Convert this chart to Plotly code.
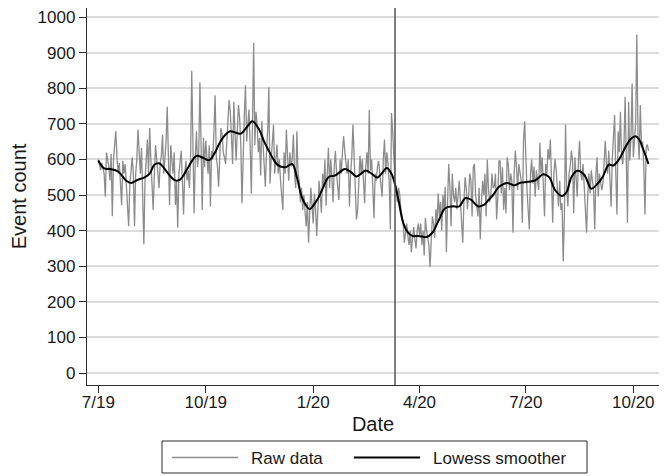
import pandas as pd
import plotly.graph_objects as go

# daily event counts, one list per month
raw_2019_07 = [600, 585, 570, 590, 578, 560, 495, 619, 601, 580, 541, 615, 440, 600, 640, 679, 606, 560, 590, 540,
               472, 596, 560, 587, 520, 470, 412, 530, 580, 606, 560]
raw_2019_08 = [412, 560, 600, 684, 610, 560, 633, 470, 362, 540, 600, 656, 560, 688, 600, 520, 458, 560, 640, 600,
               545, 520, 590, 610, 670, 560, 600, 650, 748, 560, 472]
raw_2019_09 = [640, 600, 560, 620, 472, 540, 408, 560, 587, 624, 540, 445, 560, 596, 541, 569, 520, 600, 849, 560,
               449, 600, 679, 578, 620, 817, 560, 458, 661, 578]
raw_2019_10 = [652, 606, 560, 640, 468, 624, 600, 680, 780, 606, 580, 523, 640, 688, 670, 620, 606, 587, 650, 700,
               767, 734, 640, 587, 762, 698, 596, 680, 753, 716, 640]
raw_2019_11 = [477, 640, 720, 808, 650, 700, 740, 640, 504, 700, 928, 640, 734, 698, 620, 660, 555, 707, 640, 600,
               523, 620, 680, 803, 532, 600, 640, 698, 560, 600]
raw_2019_12 = [642, 560, 600, 540, 486, 458, 620, 560, 684, 600, 540, 620, 580, 600, 670, 560, 520, 679, 560, 540,
               480, 520, 458, 500, 440, 412, 480, 366, 450, 520, 470]
raw_2020_01 = [420, 504, 460, 385, 480, 540, 500, 450, 560, 520, 600, 470, 560, 633, 520, 600, 550, 480, 580, 624,
               560, 523, 486, 600, 560, 620, 665, 624, 580, 560, 600]
raw_2020_02 = [468, 560, 606, 698, 600, 560, 431, 458, 560, 610, 560, 600, 540, 477, 580, 620, 560, 739, 569, 600,
               520, 435, 560, 540, 580, 596, 560, 520, 495]
raw_2020_03 = [600, 656, 560, 620, 587, 540, 403, 730, 680, 600, 540, 514, 480, 520, 504, 460, 440, 422, 366, 400,
               420, 385, 360, 400, 339, 380, 410, 376, 350, 400, 420]
raw_2020_04 = [385, 420, 360, 400, 330, 435, 400, 380, 360, 297, 400, 440, 420, 380, 460, 420, 504, 440, 480, 400,
               500, 460, 523, 339, 480, 587, 520, 412, 560, 500]
raw_2020_05 = [480, 520, 460, 500, 540, 480, 400, 366, 480, 550, 520, 460, 500, 560, 540, 440, 578, 587, 500, 460,
               440, 520, 376, 480, 540, 500, 560, 440, 600, 520, 480]
raw_2020_06 = [500, 560, 520, 523, 560, 431, 495, 596, 596, 504, 578, 458, 520, 449, 606, 587, 514, 560, 541, 394,
               560, 624, 580, 514, 587, 560, 541, 422, 652, 707]
raw_2020_07 = [600, 514, 458, 403, 560, 600, 532, 580, 495, 569, 540, 514, 647, 560, 606, 495, 440, 587, 560, 629,
               600, 656, 532, 422, 560, 601, 569, 520, 468, 540, 458]
raw_2020_08 = [477, 313, 440, 698, 514, 468, 560, 580, 624, 596, 449, 606, 550, 495, 596, 652, 560, 541, 587, 520,
               458, 394, 500, 560, 504, 569, 540, 514, 403, 560, 606]
raw_2020_09 = [495, 560, 541, 514, 532, 600, 652, 587, 560, 624, 541, 467, 600, 679, 725, 560, 445, 679, 620, 734,
               606, 587, 640, 776, 540, 422, 762, 596, 660, 813]
raw_2020_10 = [606, 642, 700, 951, 670, 600, 753, 633, 650, 578, 445, 633, 642, 624]

raw_months = [
    ("2019-07-01", raw_2019_07), ("2019-08-01", raw_2019_08), ("2019-09-01", raw_2019_09),
    ("2019-10-01", raw_2019_10), ("2019-11-01", raw_2019_11), ("2019-12-01", raw_2019_12),
    ("2020-01-01", raw_2020_01), ("2020-02-01", raw_2020_02), ("2020-03-01", raw_2020_03),
    ("2020-04-01", raw_2020_04), ("2020-05-01", raw_2020_05), ("2020-06-01", raw_2020_06),
    ("2020-07-01", raw_2020_07), ("2020-08-01", raw_2020_08), ("2020-09-01", raw_2020_09),
    ("2020-10-01", raw_2020_10),
]

# lowess smoother (days after 1 Jul 2019)
smooth_day = [0, 5, 10, 17, 24, 28, 34, 40, 44, 48, 52, 56, 61, 66, 70, 77, 84, 90, 95, 100,
              104, 109, 113, 118, 122, 127, 132, 137, 142, 146, 150, 154, 160, 166, 170, 174, 178, 181, 185, 189,
              193, 197, 203, 207, 211, 216, 221, 225, 229, 234, 239, 243, 247, 251, 254, 257, 261, 265, 269, 274,
              281, 286, 291, 297, 303, 309, 314, 319, 325, 330, 334, 338, 343, 350, 356, 361, 368, 374, 381, 386,
              391, 397, 401, 405, 410, 416, 422, 427, 432, 437, 441, 446, 451, 456, 460, 463, 467, 471]
smooth_count = [597, 575, 573, 566, 540, 534, 543, 550, 560, 585, 589, 577, 555, 541, 543, 578, 610, 604, 598, 620,
                647, 670, 679, 675, 672, 690, 707, 688, 650, 624, 600, 583, 578, 587, 550, 496, 470, 460, 475, 496,
                525, 550, 555, 565, 573, 565, 552, 560, 569, 560, 549, 562, 576, 560, 530, 486, 422, 395, 385, 385,
                382, 394, 426, 463, 468, 468, 491, 487, 468, 472, 486, 500, 523, 534, 527, 534, 537, 541, 558, 550,
                514, 497, 509, 550, 568, 557, 518, 530, 552, 585, 583, 601, 633, 658, 665, 656, 624, 587]

tick_dates = ["2019-07-01", "2019-10-01", "2020-01-01", "2020-04-01", "2020-07-01", "2020-10-01"]
tick_labels = ["7/19", "10/19", "1/20", "4/20", "7/20", "10/20"]
y_ticks = list(range(0, 1001, 100))
cutoff_date = "2020-03-11"

dates, counts = [], []
for start, vals in raw_months:
    dates += list(pd.date_range(start, periods=len(vals), freq="D"))
    counts += vals

smooth_dates = pd.Timestamp("2019-07-01") + pd.to_timedelta(smooth_day, unit="D")

# the page body adds an 8px margin, so the figure fills the rest of the window
W, H = 661, 468
L, R, T, B = 79, 10, 0, 91
PW, PH = W - L - R, H - T - B


def fx(px):
    return (px - L) / PW


def fy(py):
    return (H - B - py) / PH


FONT = "Liberation Sans, Arial, Helvetica, sans-serif"
AXIS = "#2b2b2b"
RAW = "#8c8c8c"

fig = go.Figure()
fig.add_trace(go.Scatter(x=dates, y=counts, mode="lines", name="Raw data",
                         line=dict(color=RAW, width=1.3)))
fig.add_trace(go.Scatter(x=smooth_dates, y=smooth_count, mode="lines", name="Lowess smoother",
                         line=dict(color="black", width=2, shape="spline", smoothing=1.0)))

fig.add_shape(type="line", xref="x", yref="paper", x0=cutoff_date, x1=cutoff_date, y0=0, y1=1,
              line=dict(color="#555555", width=1.5))

# legend box drawn by hand to match the original layout
fig.add_shape(type="rect", xref="paper", yref="paper", x0=fx(154), x1=fx(579), y0=fy(465), y1=fy(433),
              line=dict(color=AXIS, width=1), fillcolor="white", layer="above")
fig.add_shape(type="line", xref="paper", yref="paper", x0=fx(164), x1=fx(230), y0=fy(449.5), y1=fy(449.5),
              line=dict(color=RAW, width=1.5))
fig.add_shape(type="line", xref="paper", yref="paper", x0=fx(346), x1=fx(412), y0=fy(449.5), y1=fy(449.5),
              line=dict(color="black", width=2))
for label, px in [("Raw data", 241), ("Lowess smoother", 423)]:
    fig.add_annotation(text=label, xref="paper", yref="paper", x=fx(px), y=fy(450),
                       xanchor="left", yanchor="middle", showarrow=False,
                       font=dict(family=FONT, size=17, color="#1a1a1a"))

fig.update_layout(
    width=W, height=H,
    margin=dict(l=L, r=R, t=T, b=B),
    paper_bgcolor="white", plot_bgcolor="white",
    showlegend=False,
    font=dict(family=FONT, size=17, color="#1a1a1a"),
)
fig.update_xaxes(
    type="date", range=["2019-06-21 08:00", "2020-10-23"],
    tickvals=tick_dates, ticktext=tick_labels,
    ticks="outside", ticklen=7, tickwidth=1.3, tickcolor=AXIS,
    ticklabelstandoff=-6,
    showline=True, linecolor=AXIS, linewidth=1.3,
    showgrid=False, zeroline=False, automargin=False,
    title=dict(text="Date", standoff=6),
)
fig.update_yaxes(
    range=[-33.7, 1025.3], tickvals=y_ticks,
    ticks="outside", ticklen=7, tickwidth=1.3, tickcolor=AXIS,
    ticklabeloverflow="allow",
    showline=True, linecolor=AXIS, linewidth=1.3,
    showgrid=True, gridcolor="#dcdcdc", gridwidth=1.5, zeroline=False, automargin=False,
    title=dict(text="Event count", standoff=19),
)

fig.write_html("out.html")
